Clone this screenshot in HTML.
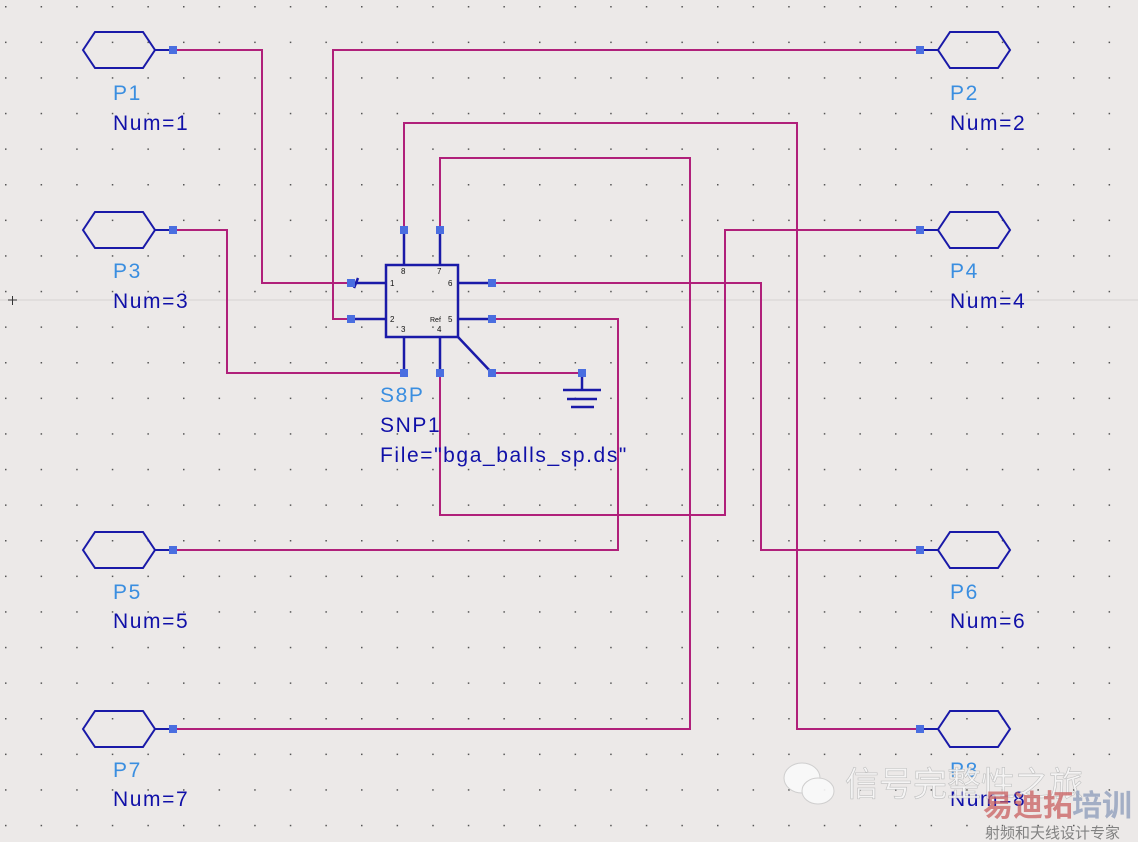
<!DOCTYPE html>
<html><head><meta charset="utf-8"><style>
html,body{margin:0;padding:0;background:#ece9e8;}
svg{display:block;}
text{font-family:"Liberation Sans","Noto Sans CJK SC",sans-serif;}
</style></head><body>
<svg width="1138" height="842" viewBox="0 0 1138 842" xmlns="http://www.w3.org/2000/svg">
<defs>
<pattern id="g" x="5" y="6" width="35.6" height="35.6" patternUnits="userSpaceOnUse">
<rect x="0" y="0" width="1.5" height="1.5" fill="#555"/>
</pattern>
<g id="hex"><polygon points="0,0 12,-18 60,-18 72,0 60,18 12,18" fill="none" stroke="#1a1aa8" stroke-width="2"/></g>
</defs>
<rect width="1138" height="842" fill="#ece9e8"/>
<rect width="1138" height="842" fill="url(#g)"/>
<line x1="0" y1="300" x2="1138" y2="300" stroke="#d6d3d2" stroke-width="1"/>
<line x1="8" y1="300" x2="17" y2="300" stroke="#333" stroke-width="1"/>
<line x1="12.5" y1="296" x2="12.5" y2="305" stroke="#333" stroke-width="1"/>

<g fill="none" stroke="#b0207a" stroke-width="2">
<polyline points="173,50 262,50 262,283 351,283"/>
<polyline points="920,50 333,50 333,319 351,319"/>
<polyline points="173,230 227,230 227,373 404,373"/>
<polyline points="920,230 725,230 725,515 440,515 440,373"/>
<polyline points="404,230 404,123 797,123 797,729 920,729"/>
<polyline points="440,230 440,158 690,158 690,729 173,729"/>
<polyline points="492,283 761,283 761,550 920,550"/>
<polyline points="492,319 618,319 618,550 173,550"/>
<polyline points="492,373 582,373"/>
</g>

<g stroke="#1a1aa8" stroke-width="2">
<use href="#hex" x="83" y="50"/><line x1="155" y1="50" x2="173" y2="50"/>
<use href="#hex" x="83" y="230"/><line x1="155" y1="230" x2="173" y2="230"/>
<use href="#hex" x="83" y="550"/><line x1="155" y1="550" x2="173" y2="550"/>
<use href="#hex" x="83" y="729"/><line x1="155" y1="729" x2="173" y2="729"/>
<use href="#hex" x="938" y="50"/><line x1="920" y1="50" x2="938" y2="50"/>
<use href="#hex" x="938" y="230"/><line x1="920" y1="230" x2="938" y2="230"/>
<use href="#hex" x="938" y="550"/><line x1="920" y1="550" x2="938" y2="550"/>
<use href="#hex" x="938" y="729"/><line x1="920" y1="729" x2="938" y2="729"/>
</g>

<g stroke="#1a1aa8" stroke-width="2.5" fill="none">
<rect x="386" y="265" width="72" height="72"/>
<line x1="351" y1="283" x2="386" y2="283"/>
<line x1="351" y1="319" x2="386" y2="319"/>
<line x1="458" y1="283" x2="492" y2="283"/>
<line x1="458" y1="319" x2="492" y2="319"/>
<line x1="404" y1="230" x2="404" y2="265"/>
<line x1="440" y1="230" x2="440" y2="265"/>
<line x1="404" y1="337" x2="404" y2="373"/>
<line x1="440" y1="337" x2="440" y2="373"/>
<line x1="458" y1="337" x2="492" y2="373"/>
<line x1="354" y1="288" x2="358" y2="278"/>
<line x1="582" y1="373" x2="582" y2="390"/>
<line x1="563" y1="390" x2="601" y2="390"/>
<line x1="567" y1="399" x2="597" y2="399"/>
<line x1="571" y1="407" x2="594" y2="407"/>
</g>
<g font-size="8" fill="#111">
<text x="390" y="286">1</text><text x="390" y="322">2</text>
<text x="401" y="332">3</text><text x="437" y="332">4</text>
<text x="448" y="322">5</text><text x="448" y="286">6</text>
<text x="437" y="274">7</text><text x="401" y="274">8</text>
<text x="430" y="322" font-size="7">Ref</text>
</g>

<g fill="#4a6ee0">
<rect x="169" y="46" width="8" height="8"/><rect x="169" y="226" width="8" height="8"/>
<rect x="169" y="546" width="8" height="8"/><rect x="169" y="725" width="8" height="8"/>
<rect x="916" y="46" width="8" height="8"/><rect x="916" y="226" width="8" height="8"/>
<rect x="916" y="546" width="8" height="8"/><rect x="916" y="725" width="8" height="8"/>
<rect x="347" y="279" width="8" height="8"/><rect x="347" y="315" width="8" height="8"/>
<rect x="488" y="279" width="8" height="8"/><rect x="488" y="315" width="8" height="8"/>
<rect x="400" y="226" width="8" height="8"/><rect x="436" y="226" width="8" height="8"/>
<rect x="400" y="369" width="8" height="8"/><rect x="436" y="369" width="8" height="8"/>
<rect x="488" y="369" width="8" height="8"/><rect x="578" y="369" width="8" height="8"/>
</g>

<g font-size="21" letter-spacing="1.6">
<g fill="#3a8ee0">
<text x="113" y="100">P1</text><text x="113" y="278">P3</text>
<text x="113" y="599">P5</text><text x="113" y="777">P7</text>
<text x="950" y="100">P2</text><text x="950" y="278">P4</text>
<text x="950" y="599">P6</text><text x="950" y="777">P8</text>
<text x="380" y="402">S8P</text>
</g>
<g fill="#1010a8">
<text x="113" y="130">Num=1</text><text x="113" y="308">Num=3</text>
<text x="113" y="628">Num=5</text><text x="113" y="806">Num=7</text>
<text x="950" y="130">Num=2</text><text x="950" y="308">Num=4</text>
<text x="950" y="628">Num=6</text><text x="950" y="806">Num=8</text>
<text x="380" y="432">SNP1</text>
<text x="380" y="462">File="bga_balls_sp.ds"</text>
</g>
</g>

<g opacity="0.9">
<ellipse cx="802" cy="778" rx="18" ry="15" fill="#fafafa" stroke="#ccc"/>
<ellipse cx="818" cy="791" rx="16" ry="13" fill="#fafafa" stroke="#ccc"/>
<text x="845" y="796" font-size="34" fill="#f6f6f6" stroke="#bbb" stroke-width="0.6" font-family="'Noto Sans CJK SC',sans-serif">信号完整性之旅</text>
<text x="983" y="816" font-size="30" font-weight="bold" fill="#c85a5a" opacity="0.8" font-family="'Noto Sans CJK SC',sans-serif">易迪拓</text>
<text x="1072" y="816" font-size="30" font-weight="bold" fill="#8898b8" opacity="0.8" font-family="'Noto Sans CJK SC',sans-serif">培训</text>
<text x="985" y="838" font-size="15" fill="#777" font-family="'Noto Serif CJK SC',serif">射频和天线设计专家</text>
</g>
</svg>
</body></html>
